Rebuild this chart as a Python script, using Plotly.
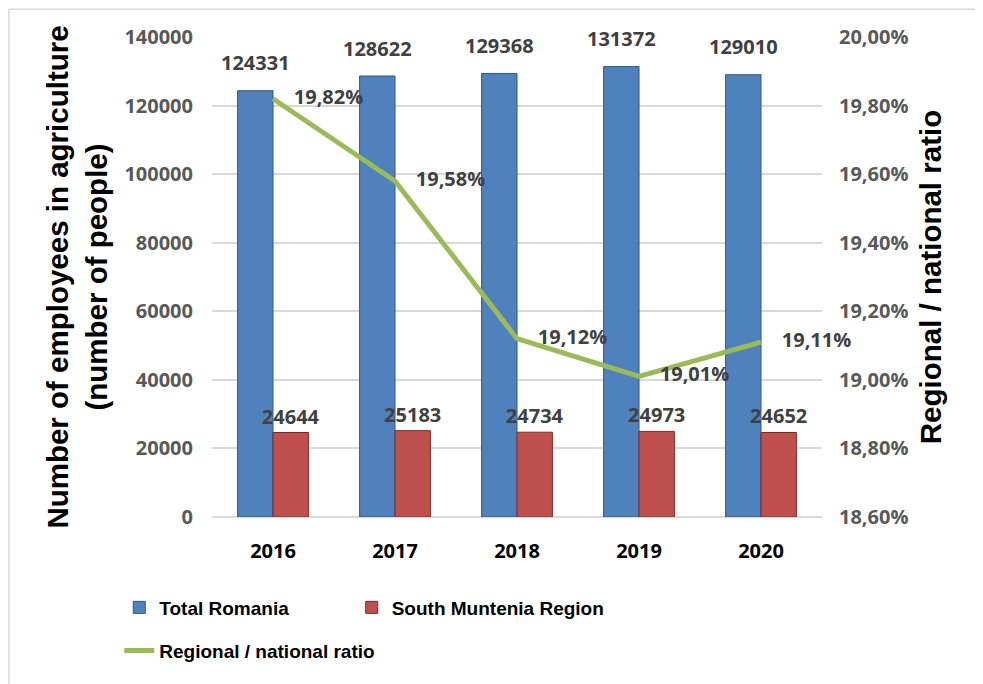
import plotly.graph_objects as go

years = ["2016", "2017", "2018", "2019", "2020"]
total_romania = [124331, 128622, 129368, 131372, 129010]
south_muntenia = [24644, 25183, 24734, 24973, 24652]
ratio_pct = [19.82, 19.58, 19.12, 19.01, 19.11]

left_ticks = [0, 20000, 40000, 60000, 80000, 100000, 120000, 140000]
right_ticks = [18.6, 18.8, 19.0, 19.2, 19.4, 19.6, 19.8, 20.0]
right_tick_labels = ["18,60%", "18,80%", "19,00%", "19,20%", "19,40%", "19,60%", "19,80%", "20,00%"]

NUM_FAMILY = "Open Sans, Lato, sans-serif"
label_font = dict(family=NUM_FAMILY, size=20, color="#404040", weight="bold")
tick_font = dict(family=NUM_FAMILY, size=20, color="#595959", weight="bold")
cat_font = dict(family=NUM_FAMILY, size=20, color="#000000", weight="bold")
title_font = dict(family="Liberation Sans, Arial", size=29.5, color="#000000", weight="bold")
legend_font = dict(family="Liberation Sans, Arial", size=19, color="#000000", weight="bold")

fig = go.Figure()
fig.add_trace(go.Bar(
    x=years, y=total_romania, name="Total Romania",
    marker=dict(color="#4F81BD", line=dict(color="#2f5689", width=1)),
    legend="legend", showlegend=True,
))
fig.add_trace(go.Bar(
    x=years, y=south_muntenia, name="South Muntenia Region",
    marker=dict(color="#C0504D", line=dict(color="#7a2a28", width=1)),
    text=south_muntenia, texttemplate="%{y:d}", textposition="outside",
    constraintext="none", textfont=label_font, cliponaxis=False,
    legend="legend2", showlegend=True,
))
fig.add_trace(go.Scatter(
    x=years, y=ratio_pct, name="Regional / national ratio", yaxis="y2",
    mode="lines+text", line=dict(color="#9BBB59", width=5),
    text=ratio_pct, texttemplate="\u00a0\u00a0\u00a0\u00a0%{y:.2f}%", textposition="middle right",
    textfont=label_font, cliponaxis=False, legend="legend3", showlegend=True,
))

# value labels of the blue bars, placed over the left bar of each group
blue_labels = [
    dict(x=i, y=v, xref="x", yref="y", text=str(v), showarrow=False,
         xshift=-17.5, yshift=28, font=label_font)
    for i, v in enumerate(total_romania)
]

fig.update_layout(
    width=975, height=676,
    margin=dict(l=204, r=161, t=29, b=167),
    paper_bgcolor="white", plot_bgcolor="white",
    showlegend=True,
    separators=",.",
    barmode="group", bargap=0.42, bargroupgap=0,
    xaxis=dict(
        type="category", tickfont=cat_font, automargin=False,
        ticks="", ticklabelstandoff=20, showline=False, showgrid=False,
    ),
    yaxis=dict(
        range=[0, 140000], tickvals=left_ticks, tickformat="d", automargin=False,
        tickfont=tick_font, ticklabelstandoff=18, showgrid=True, gridcolor="#D9D9D9", gridwidth=1.5,
        zeroline=True, zerolinecolor="#D9D9D9", zerolinewidth=2,
        title=dict(text="Number of employees in agriculture<br>(number of people)",
                   font=title_font, standoff=8),
    ),
    yaxis2=dict(
        overlaying="y", side="right", range=[18.6, 20.0], tickvals=right_ticks,
        ticktext=right_tick_labels, automargin=False, ticklabelstandoff=16,
        tickfont=tick_font, showgrid=False, zeroline=False,
        title=dict(text="Regional / national ratio", font=title_font, standoff=12),
    ),
    legend=dict(
        orientation="h", x=-0.152, y=-0.149, xanchor="left", yanchor="top",
        font=legend_font, bgcolor="rgba(0,0,0,0)",
    ),
    legend2=dict(
        orientation="h", x=0.229, y=-0.149, xanchor="left", yanchor="top",
        font=legend_font, bgcolor="rgba(0,0,0,0)",
    ),
    legend3=dict(
        orientation="h", x=-0.152, y=-0.239, xanchor="left", yanchor="top",
        font=legend_font, bgcolor="rgba(0,0,0,0)",
    ),
    annotations=blue_labels,
    shapes=[
        dict(type="line", xref="paper", yref="paper", x0=-0.333, x1=1.3, y0=1.058, y1=1.058,
             line=dict(color="#D9D9D9", width=1.5)),
        dict(type="line", xref="paper", yref="paper", x0=-0.333, x1=-0.333, y0=1.058, y1=-0.4,
             line=dict(color="#D9D9D9", width=1.5)),
    ],
)

fig.write_html("out.html")
